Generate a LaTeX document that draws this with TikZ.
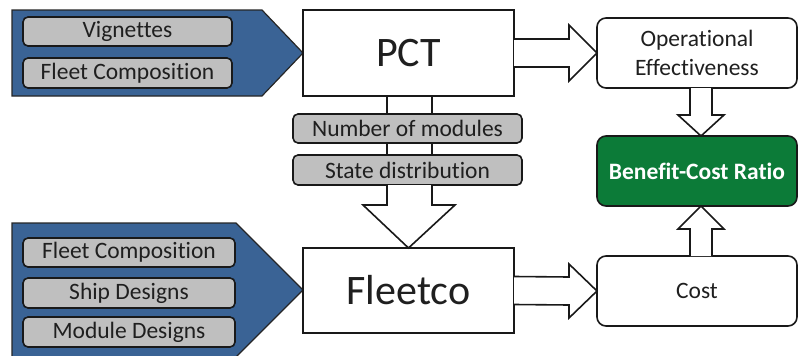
\documentclass[tikz,border=0pt]{standalone}
\usepackage{fontspec}
\setmainfont{Carlito}[Ligatures=NoCommon]
\usetikzlibrary{calc}
\definecolor{panelblue}{HTML}{3A6395}
\definecolor{boxgray}{HTML}{BFBFBF}
\definecolor{bcrgreen}{HTML}{0C7B38}
\definecolor{txtdark}{HTML}{1F1F1F}
\tikzset{
  every node/.style={inner sep=0pt, outer sep=0pt},
  panel/.style={fill=panelblue, draw=black!85, line width=1.2pt, line join=miter},
  graybox/.style={draw=black!90, fill=boxgray, rounded corners=5pt, line width=1.6pt,
    font=\fontsize{23.5}{26}\selectfont, text=txtdark, anchor=center},
  bigbox/.style={draw=black!90, fill=white, line width=1.6pt, minimum width=211pt,
    font=\fontsize{42}{46}\selectfont, text=txtdark},
  resbox/.style={draw=black!90, fill=white, rounded corners=9pt, line width=1.6pt,
    minimum width=200pt, minimum height=70pt, align=center,
    font=\fontsize{23.5}{28.5}\selectfont, text=txtdark},
  blockarrow/.style={draw=black!90, fill=white, line width=1.6pt, line join=miter},
  wire/.style={draw=black!90, line width=1.6pt}
}
\begin{document}
\begin{tikzpicture}[x=1pt,y=-1pt]
\useasboundingbox (0,0) rectangle (798,356);
\begin{scope}
\clip (0,0) rectangle (798,356);
% blue input panels
\draw[panel] (12,10) -- (262,10) -- (303,53) -- (262,96) -- (12,96) -- cycle;
\draw[panel] (12,223) -- (236,223) -- (303,290) -- (236,357) -- (12,357) -- cycle;
\end{scope}

% gray input boxes
\node[graybox, minimum width=209pt, minimum height=29pt] (vig) at (127.5,31.5) {Vignettes};
\node[graybox, minimum width=209pt, minimum height=30pt] (fc1) at (127.5,73) {Fleet Composition};
\node[graybox, minimum width=212pt, minimum height=29pt] (fc2) at (129,252.5) {Fleet Composition};
\node[graybox, minimum width=212pt, minimum height=30pt] (sd2) at (129,293) {Ship Designs};
\node[graybox, minimum width=212pt, minimum height=30pt] (md) at (129,332) {Module Designs};

% main boxes
\node[bigbox, minimum height=86pt] (pct) at (408.5,53) {PCT};
\node[bigbox, minimum height=85pt] (fleetco) at (408.5,290.5) {Fleetco};

% result boxes
\node[resbox] (oe) at (697,53) {Operational\\Effectiveness};
\node[resbox, fill=bcrgreen, text=white, font=\fontsize{23.5}{28}\selectfont\bfseries] (bcr) at (697,171) {Benefit-Cost Ratio};
\node[resbox] (cost) at (697,291) {Cost};

% intermediate boxes
\node[graybox, minimum width=229pt, minimum height=29pt] (nom) at (407.5,128.5) {Number of modules};
\node[graybox, minimum width=229pt, minimum height=30pt] (sdist) at (407.5,170) {State distribution};

% wires between PCT and intermediate boxes
\draw[wire] ($(pct.south)+(-21.5,0)$) -- ($(nom.north)+(-20.5,0)$);
\draw[wire] ($(pct.south)+(23.5,0)$) -- ($(nom.north)+(24.5,0)$);
\draw[wire] ($(nom.south)+(-20.5,0)$) -- ($(sdist.north)+(-20.5,0)$);
\draw[wire] ($(nom.south)+(24.5,0)$) -- ($(sdist.north)+(24.5,0)$);

% down block arrow into Fleetco
\path[blockarrow] ($(sdist.south)+(-20.5,0)$) -- ($(fleetco.north)+(-21.5,-43)$)
  -- ($(fleetco.north)+(-45.5,-43)$) -- (fleetco.north)
  -- ($(fleetco.north)+(46.5,-43)$) -- ($(fleetco.north)+(23.5,-43)$)
  -- ($(sdist.south)+(24.5,0)$);

% horizontal block arrows
\path[blockarrow] ($(pct.east)+(0,-14)$) -- ($(oe.west)+(-28,-14)$) -- ($(oe.west)+(-28,-28)$)
  -- (oe.west) -- ($(oe.west)+(-28,28)$) -- ($(oe.west)+(-28,14)$) -- ($(pct.east)+(0,14)$);
\path[blockarrow] ($(fleetco.east)+(0,-14)$) -- ($(cost.west)+(-28,-14)$) -- ($(cost.west)+(-28,-27)$)
  -- (cost.west) -- ($(cost.west)+(-28,27)$) -- ($(cost.west)+(-28,14)$) -- ($(fleetco.east)+(0,14)$);

% vertical block arrows into Benefit-Cost Ratio
\path[blockarrow] ($(oe.south)+(-7,0)$) -- ($(bcr.north)+(-7,-21)$) -- ($(bcr.north)+(-19,-21)$)
  -- ($(bcr.north)+(4,0)$) -- ($(bcr.north)+(27,-21)$) -- ($(bcr.north)+(15,-21)$) -- ($(oe.south)+(15,0)$);
\path[blockarrow] ($(cost.north)+(-7,0)$) -- ($(bcr.south)+(-7,23)$) -- ($(bcr.south)+(-19,23)$)
  -- ($(bcr.south)+(4,0)$) -- ($(bcr.south)+(27,23)$) -- ($(bcr.south)+(15,23)$) -- ($(cost.north)+(15,0)$);
\end{tikzpicture}
\end{document}
